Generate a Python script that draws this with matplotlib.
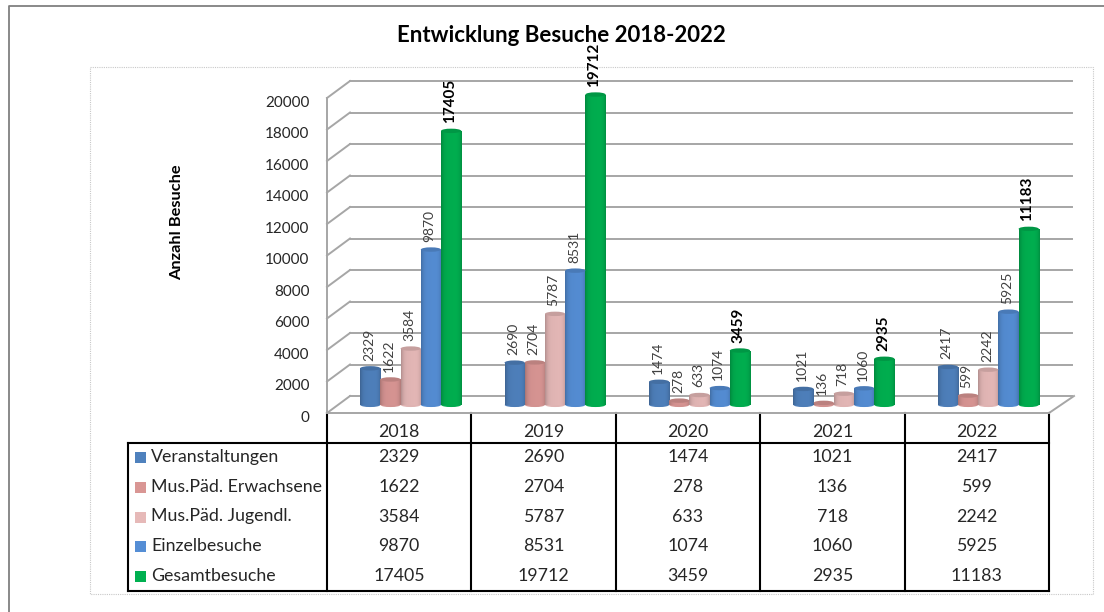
import numpy as np
import matplotlib
matplotlib.use('Agg')
import matplotlib.pyplot as plt
from matplotlib.patches import Ellipse, Rectangle

plt.rcParams['font.family'] = ['Lato', 'DejaVu Sans']

# Werte aus dem Bild
title = 'Entwicklung Besuche 2018-2022'
y_title = 'Anzahl Besuche'
years = ['2018', '2019', '2020', '2021', '2022']
series_names = ['Veranstaltungen', 'Mus.Päd. Erwachsene', 'Mus.Päd. Jugendl.', 'Einzelbesuche', 'Gesamtbesuche']
veranstaltungen = [2329, 2690, 1474, 1021, 2417]
erwachsene = [1622, 2704, 278, 136, 599]
jugendl = [3584, 5787, 633, 718, 2242]
einzel = [9870, 8531, 1074, 1060, 5925]
gesamt = [17405, 19712, 3459, 2935, 11183]
y_ticks = list(range(0, 20001, 2000))

colors = ['#4f81bd', '#d99694', '#e6b9b8', '#558ed5', '#00b050']
all_series = [veranstaltungen, erwachsene, jugendl, einzel, gesamt]

W, H = 1104, 612
GRID = '#a6a6a6'
TXT = '#262626'

# Pixelrahmen der Achse (Vorderkante)
X0, X1, Y0, Y1 = 327, 1049, 413, 98
# Verschiebung der Rückwand und der Balkenebene
BACK_DX, BACK_DY = 23, 17
BAR_DX, BAR_DY = 11.5, 8


def make_axes(fig, dx=0, dy=0):
    ax = fig.add_axes([(X0 + dx) / W, 1 - (Y0 - dy) / H, (X1 - X0) / W, (Y0 - Y1) / H])
    ax.set_xlim(0, 5)
    ax.set_ylim(0, 20000)
    ax.axis('off')
    ax.patch.set_alpha(0)
    return ax


def shade(color, factor):
    rgb = np.array(matplotlib.colors.to_rgb(color))
    if factor < 1:
        return rgb * factor
    return rgb + (1 - rgb) * (factor - 1)


def draw_cylinder(ax, x, value, width, color):
    bars = ax.bar(x, value, width, color=color, align='edge', zorder=3, linewidth=0)
    # Zylinder-Schattierung von links nach rechts
    t = np.linspace(0, 1, 40)
    light = 1 - 0.18 * np.abs(2 * t - 1) ** 4 - 0.04 * (1 - t)
    grad = np.array([shade(color, f) for f in light])[None, :, :]
    im = ax.imshow(grad, extent=[x, x + width, 0, value], aspect='auto', zorder=4)
    im.set_clip_path(bars[0])
    bottom = Ellipse((x + width / 2, 0), width * 0.98, 260, facecolor=shade(color, 0.97), linewidth=0,
                     zorder=2.5, clip_on=False)
    top = Ellipse((x + width / 2, value), width, 280, facecolor=shade(color, 0.86), linewidth=0,
                  zorder=5, clip_on=False)
    ax.add_patch(bottom)
    ax.add_patch(top)


def main():
    fig = plt.figure(figsize=(W / 100, H / 100), dpi=100)
    fig.patch.set_facecolor('white')

    # Overlay in Pixelkoordinaten für Rahmen, Titel und Tabelle
    pix = fig.add_axes([0, 0, 1, 1])
    pix.set_xlim(0, W)
    pix.set_ylim(H, 0)
    pix.axis('off')

    pix.plot([9, 9, W], [H, 6, 6], color='#808080', lw=1.3)
    pix.add_patch(Rectangle((90, 66.5), 1003, 527.5, fill=False, edgecolor='#c8c8c8', lw=0.8, ls=(0, (1, 1))))
    pix.text(561, 36, title, ha='center', va='center', fontsize=16, fontweight='bold', color='black')
    pix.text(177, 222, y_title, ha='center', va='center', rotation=90, fontsize=11.8, fontweight='bold', color='black')

    back = make_axes(fig, BACK_DX, BACK_DY)
    front = make_axes(fig)
    bars = make_axes(fig, BAR_DX, BAR_DY)

    # Gitter auf Rückwand und Seitenwand
    for tick in y_ticks:
        back.plot([0, 5], [tick, tick], color=GRID, lw=1.4, clip_on=False, zorder=1)
        py = Y0 - (Y0 - Y1) * tick / y_ticks[-1]
        pix.plot([X0, X0 + BACK_DX], [py, py - BACK_DY], color=GRID, lw=1.4, zorder=1)
        front.annotate(str(tick), (0, tick), xytext=(-12.5, -3.5), textcoords='offset points',
                       ha='right', va='center', fontsize=11, color=TXT, annotation_clip=False)
    front.plot([0, 0], [0, 20000], color=GRID, lw=1.4, clip_on=False)
    front.plot([0, 5], [0, 0], color=GRID, lw=1.4, clip_on=False)
    pix.plot([X1, X1 + BACK_DX + 2], [Y0, Y0 - BACK_DY], color=GRID, lw=1.4, zorder=1)

    # Balken
    bar_w = 0.14
    for s, values in enumerate(all_series):
        for i, value in enumerate(values):
            x = i + 0.5 + (s - 2.5) * bar_w
            draw_cylinder(bars, x, value, bar_w, colors[s])
            is_total = s == 4
            bars.annotate(str(value), (x + bar_w / 2, value), xytext=(-1, 5.5), textcoords='offset points',
                          rotation=90, ha='center', va='bottom',
                          fontsize=11 if is_total else 10,
                          fontweight='bold' if is_total else 'normal',
                          color='black' if is_total else '#404040',
                          annotation_clip=False, zorder=8)
    bars.set_xlim(0, 5)
    bars.set_ylim(0, 20000)

    # Datentabelle
    tab_left, head_bottom, tab_bottom = 128, 443, 591
    row_h = (tab_bottom - head_bottom) / len(series_names)
    col_w = (X1 - X0) / len(years)
    black = dict(color='black', lw=1.5, solid_capstyle='projecting')
    pix.plot([tab_left, X1], [head_bottom, head_bottom], **black)
    pix.plot([tab_left, X1], [tab_bottom, tab_bottom], **black)
    pix.plot([tab_left, tab_left], [head_bottom, tab_bottom], **black)
    for j in range(len(years) + 1):
        pix.plot([X0 + j * col_w] * 2, [Y0, tab_bottom], **black)
    for j, year in enumerate(years):
        pix.text(X0 + (j + 0.5) * col_w, 432, year, ha='center', va='center', fontsize=12.8, color=TXT)
    for r, name in enumerate(series_names):
        cy = head_bottom + (r + 0.5) * row_h - 0.5
        pix.add_patch(Rectangle((135, cy - 5), 11, 11, facecolor=colors[r], linewidth=0))
        pix.text(151, cy, name, ha='left', va='center', fontsize=12.8, color=TXT)
        for j, value in enumerate(all_series[r]):
            pix.text(X0 + (j + 0.5) * col_w, cy, str(value), ha='center', va='center', fontsize=12.8, color=TXT)

    fig.savefig('out.png', dpi=100)


if __name__ == '__main__':
    main()
